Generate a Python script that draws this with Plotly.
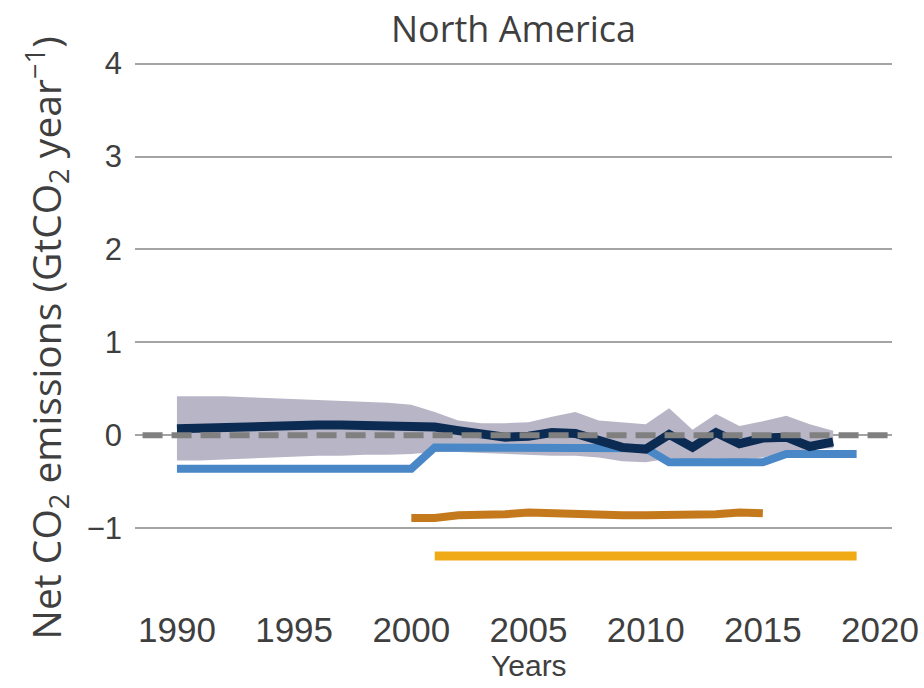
import plotly.graph_objects as go

# Net CO2 emissions, North America (GtCO2 per year)
years = list(range(1990, 2020))

# bookkeeping-model mean and its range (1990-2018)
bk_years = list(range(1990, 2019))
bk_mean = [0.07, 0.08, 0.09, 0.10, 0.11, 0.11, 0.11, 0.11, 0.11, 0.11,
           0.11, 0.09, 0.05, 0.01, -0.02, -0.01, 0.03, 0.02, -0.05, -0.13,
           -0.15, 0.01, -0.13, 0.03, -0.09, -0.03, -0.02, -0.12, -0.07]
bk_upper = [0.42, 0.42, 0.42, 0.41, 0.40, 0.39, 0.38, 0.37, 0.36, 0.35,
            0.33, 0.25, 0.16, 0.13, 0.13, 0.14, 0.20, 0.25, 0.16, 0.14,
            0.12, 0.29, 0.06, 0.23, 0.10, 0.15, 0.21, 0.12, 0.05]
bk_lower = [-0.27, -0.27, -0.26, -0.25, -0.24, -0.23, -0.22, -0.22, -0.21, -0.21,
            -0.20, -0.18, -0.18, -0.19, -0.20, -0.21, -0.22, -0.22, -0.24, -0.28,
            -0.29, -0.25, -0.26, -0.25, -0.26, -0.24, -0.18, -0.15, -0.14]

# national inventory series (1990-2019)
ghgi = [-0.36] * 11 + [-0.13, -0.13, -0.13, -0.13, -0.14, -0.14, -0.14, -0.14, -0.14,
                       -0.14, -0.29, -0.29, -0.29, -0.29, -0.29, -0.20, -0.20, -0.20, -0.20]

# FAOSTAT (2000-2015)
fao_years = list(range(2000, 2016))
fao = [-0.89, -0.89, -0.86, -0.86, -0.85, -0.83, -0.84, -0.86, -0.86, -0.86,
       -0.86, -0.86, -0.86, -0.85, -0.83, -0.84]

# DGVM-based estimate (2001-2019)
dgvm_years = list(range(2001, 2020))
dgvm = [-1.30] * len(dgvm_years)

x_ticks = [1990, 1995, 2000, 2005, 2010, 2015, 2020]
y_ticks = [-1, 0, 1, 2, 3, 4]

SANS = "Liberation Sans, Arial, sans-serif"
TEXT = "#3f3f3f"

fig = go.Figure()

fig.add_trace(go.Scatter(x=bk_years, y=bk_upper, mode="lines",
                         line=dict(width=0), hoverinfo="skip", showlegend=False))
fig.add_trace(go.Scatter(x=bk_years, y=bk_lower, mode="lines", fill="tonexty",
                         fillcolor="#b8b6c6", line=dict(width=0),
                         hoverinfo="skip", showlegend=False))
fig.add_trace(go.Scatter(x=years, y=ghgi, mode="lines",
                         line=dict(color="#4a87c6", width=8), showlegend=False))
fig.add_trace(go.Scatter(x=bk_years, y=bk_mean, mode="lines",
                         line=dict(color="#0c2b52", width=9), showlegend=False))
fig.add_trace(go.Scatter(x=fao_years, y=fao, mode="lines",
                         line=dict(color="#c47a1c", width=8), showlegend=False))
fig.add_trace(go.Scatter(x=dgvm_years, y=dgvm, mode="lines",
                         line=dict(color="#f0aa16", width=9), showlegend=False))

# dashed zero reference
fig.add_shape(type="line", xref="paper", yref="y", x0=0.01, x1=1.0, y0=0, y1=0,
              line=dict(color="#808080", width=6, dash="20px,9px"), layer="above")

fig.update_layout(
    width=924, height=688, autosize=False,
    margin=dict(l=135, r=32, t=45, b=104, autoexpand=False),
    paper_bgcolor="white", plot_bgcolor="white",
    showlegend=False,
    xaxis=dict(range=[1988.21, 2020.51], tickvals=x_ticks, showgrid=False,
               zeroline=False, showline=False, ticks="", automargin=False,
               tickfont=dict(family=SANS, size=35, color=TEXT),
               ticklabelstandoff=22),
    yaxis=dict(range=[-1.6, 4.2], tickvals=y_ticks, showgrid=True,
               gridcolor="#a4a4a4", gridwidth=2, zeroline=False, showline=False,
               ticks="", tickformat="d", automargin=False,
               tickfont=dict(family=SANS, size=31, color=TEXT),
               ticklabelstandoff=12),
    annotations=[
        dict(text="North America", xref="paper", yref="paper", x=0.5, y=1.03,
             xanchor="center", yanchor="middle", showarrow=False,
             font=dict(family="Open Sans, sans-serif", size=36, color=TEXT)),
        dict(text="Net CO<sub>2</sub> emissions (GtCO<sub>2</sub> year<sup>−1</sup>)",
             xref="paper", yref="paper", x=-0.1162, y=0.4556, textangle=-90,
             xanchor="center", yanchor="middle", showarrow=False,
             font=dict(family="Open Sans, sans-serif", size=39, color=TEXT)),
        dict(text="Years", xref="paper", yref="paper", x=0.5205, y=-0.152,
             xanchor="center", yanchor="middle", showarrow=False,
             font=dict(family=SANS, size=30, color=TEXT)),
    ],
)

fig.write_html("out.html")
